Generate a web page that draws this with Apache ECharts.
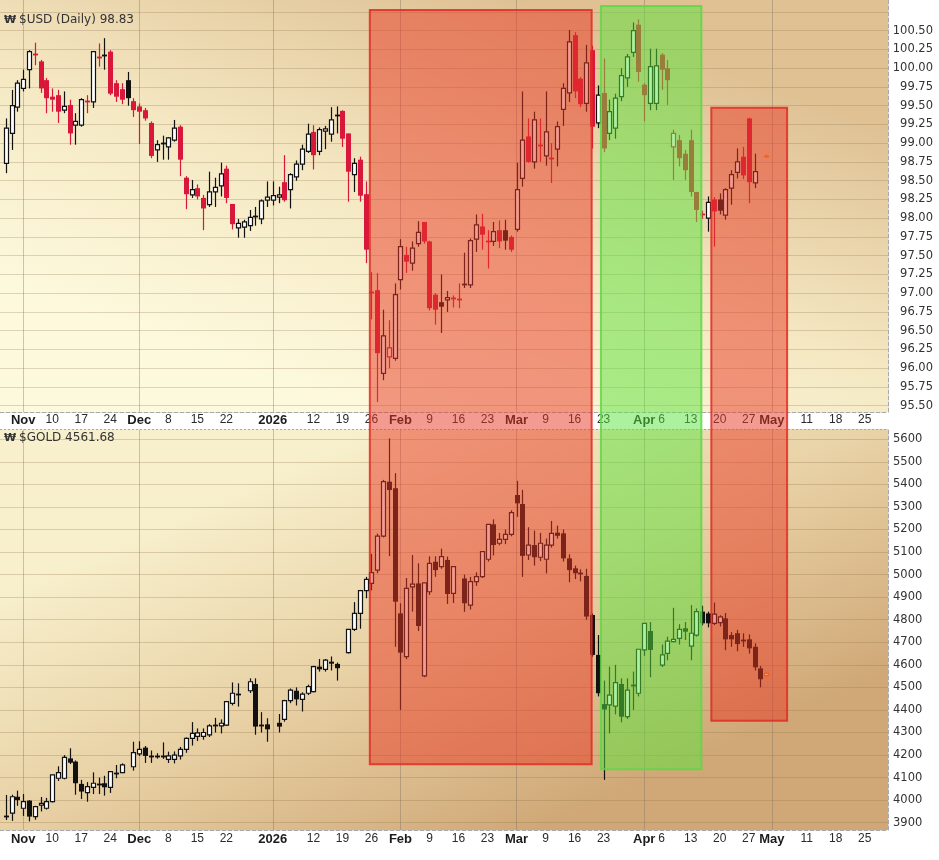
<!DOCTYPE html>
<html><head><meta charset="utf-8">
<script src="https://cdn.jsdelivr.net/npm/echarts@6/dist/echarts.min.js"></script>
<style>html,body{margin:0;padding:0;background:#fff;}#c{width:939px;height:860px;}</style>
</head><body><div id="c"></div>
<script>
// ---------- axis range (weekdays) ----------
const axisStart = '2025-10-28', axisEnd = '2026-05-29';
const dataStart = '2025-10-29', dataEnd = '2026-04-30';

// ---------- $USD daily OHLC (Oct 29 2025 .. Apr 30 2026, weekdays) ----------
const usdOpen = [98.73,99.13,99.48,
 99.73,99.98,100.20,100.09,99.84, 99.62,99.64,99.44,99.51,99.24, 99.24,99.57,99.55,100.16,100.17,
 100.22,99.80,99.72,99.84,99.56, 99.49,99.44,99.27,98.91,99.01, 98.95,99.04,99.22,98.54,98.31,
 98.40,98.27,98.18,98.35,98.43, 98.66,98.19,97.87,97.88,97.90, 98.04,97.99,98.24,98.24,98.28,
 98.48,98.38,98.55,98.72,98.89, 99.15,98.89,99.16,99.12,99.38, 99.43,99.13,98.58,98.78,98.32,
 97.02,97.04,95.93,96.15,96.13, 97.18,97.51,97.40,97.66,97.95, 97.69,96.98,96.88,96.91,96.94,
 96.93,97.11,97.11,97.72,97.89, 97.70,97.69,97.84,97.84,97.75, 97.85,98.53,99.09,98.75,98.98,
 98.83,98.81,98.92,99.45,99.67, 100.44,99.86,99.53,100.24,99.27, 99.67,99.13,99.20,99.62,99.87,
 100.21,100.58,99.78,99.53,99.53, 100.18,100.00,98.95,99.04,98.86, 99.04,98.35,98.06,98.00,98.25,
 98.25,98.04,98.40,98.61,98.82, 99.33,98.47,null,98.83];
const usdHigh = [99.33,99.71,99.84,
 99.98,100.24,100.34,100.11,99.87, 99.73,99.71,99.69,99.58,99.40, 99.60,99.64,100.23,100.33,100.40,
 100.24,99.84,99.80,99.95,99.60, 99.53,99.47,99.29,99.04,99.10, 99.08,99.31,99.24,98.56,98.51,
 98.45,98.31,98.62,98.54,98.74, 98.70,98.19,97.99,97.98,98.11, 98.15,98.25,98.49,98.49,98.42,
 98.84,98.60,98.77,98.98,99.26, 99.24,99.21,99.23,99.48,99.49, 99.44,99.13,98.80,98.82,98.49,
 97.28,97.27,96.78,96.64,97.13, 97.72,97.62,97.69,97.96,97.95, 97.70,97.00,97.25,97.03,96.97,
 97.13,97.54,97.73,98.05,98.06, 97.84,97.95,97.97,97.98,97.77, 98.74,99.69,99.33,99.42,99.33,
 99.69,99.00,99.29,99.80,100.51, 100.48,99.88,100.31,100.30,99.77, 100.13,99.58,99.66,100.00,100.19,
 100.61,100.65,99.80,100.26,100.26, 100.20,100.11,99.18,99.11,98.91, 99.18,98.35,98.10,98.29,98.28,
 98.33,98.40,98.64,98.93,98.95, 99.34,98.86,null,98.85];
const usdLow = [98.60,98.91,99.42,
 99.69,99.73,100.04,99.67,99.40, 99.42,99.27,99.40,98.98,98.98, 99.22,99.40,99.47,100.02,99.98,
 99.64,99.55,99.52,99.50,99.35, 98.99,99.30,98.80,98.75,98.78, 98.78,99.02,98.56,98.12,98.27,
 98.25,97.84,98.15,98.15,98.29, 98.20,97.85,97.74,97.74,97.83, 97.90,97.92,98.15,98.17,98.20,
 98.22,98.13,98.50,98.64,98.87, 98.65,98.84,98.92,99.02,99.13, 98.95,98.22,98.35,98.22,97.40,
 96.65,95.55,95.84,96.00,96.10, 97.05,97.27,97.30,97.62,97.66, 96.77,96.58,96.47,96.75,96.81,
 96.80,97.07,97.07,97.55,97.58, 97.33,97.63,97.60,97.58,97.55, 97.82,98.42,98.74,98.66,98.75,
 98.70,98.47,98.69,99.23,99.55, 99.60,99.48,99.42,98.93,99.20, 98.88,99.04,99.06,99.56,99.75,
 100.15,99.82,99.29,99.44,99.44, 99.71,99.51,98.51,98.69,98.51, 98.29,97.95,97.99,97.82,97.62,
 98.05,97.98,98.18,98.53,98.52, 98.20,98.40,null,98.81];
const usdClose = [99.20,99.50,99.80,
 99.85,100.22,100.18,99.73,99.60, 99.58,99.42,99.49,99.13,99.29, 99.58,99.55,100.22,100.15,100.17,
 99.66,99.62,99.58,99.60,99.44, 99.42,99.33,98.83,98.98,99.00, 99.07,99.20,98.78,98.32,98.38,
 98.29,98.13,98.35,98.41,98.59, 98.27,97.92,97.93,97.95,98.01, 98.03,98.23,98.28,98.30,98.31,
 98.24,98.58,98.72,98.92,99.12, 98.84,99.18,99.19,99.31,99.37, 99.06,98.62,98.73,98.30,97.58,
 97.00,96.20,96.43,96.27,96.98, 97.62,97.42,97.60,97.81,97.69, 96.80,96.78,96.82,96.94,96.92,
 96.91,97.13,97.70,97.91,97.78, 97.69,97.82,97.69,97.70,97.58, 98.38,99.04,98.75,99.31,98.97,
 99.15,98.80,99.22,99.73,100.35, 99.69,99.52,100.07,99.22,99.64, 98.93,99.42,99.60,99.90,100.15,
 100.50,99.95,99.64,100.02,100.03, 99.98,99.84,99.13,98.80,98.64, 98.35,98.11,98.05,98.21,98.09,
 98.10,98.38,98.58,98.75,98.57, 98.48,98.62,null,98.83];

// ---------- $GOLD daily OHLC ----------
const goldOpen = [3933,3942,4015,
 3964,3998,3927,3978,3964, 3993,4097,4097,4185,4171, 4072,4033,4057,4072,4075,
 4057,4119,4122,null,4148, 4205,4233,4197,4196,4196, 4181,4181,4196,4225,4274,
 4283,4283,4289,4333,4329, 4333,4429,4470,null,4485, 4515,4330,4336,null,4343,
 4358,4441,4485,4447,4474, 4481,4592,4580,4614,4604, null,4654,4757,4828,4929,
 4961,5020,5171,5412,5383, 4828,4636,4946,4961,4551, 4924,5057,5035,5065,4917,
 null,4983,4865,4969,4991, 5068,5223,5139,5156,5178, 5353,5313,5087,5131,5077,
 5068,5131,5186,5183,5072, 5028,5008,4994,4821,4644, 4426,4422,4417,4515,4370,
 4510,4474,4666,4750,null, 4599,4651,4703,4717,4762, 4683,4732,4836,4828,4784,
 4787,4806,4732,4740,4713, 4713,4680,4584,4552];
const goldHigh = [4023,4024,4042,
 4027,4000,3975,4014,4010, 4112,4150,4200,4230,4176, 4090,4080,4123,4100,4108,
 4128,4156,4163,null,4259, 4261,4240,4220,4208,4256, 4215,4216,4236,4278,4346,
 4318,4318,4337,4365,4358, 4440,4522,4518,null,4540, 4540,4390,4363,null,4382,
 4445,4495,4500,4478,4512, 4596,4626,4626,4637,4610, null,4757,4878,4932,4990,
 5092,5182,5420,5604,5450, 4873,4985,5087,5050,4963, 5081,5081,5115,5080,5035,
 null,5000,4990,5010,5102, 5223,5245,5185,5200,5285, 5416,5376,5210,5195,5185,
 5160,5238,5217,5200,5090, 5040,5024,5026,4828,4732, 4530,4592,4600,4540,4540,
 4570,4669,4784,4790,null, 4690,4725,4853,4780,4790, 4865,4850,4862,4836,4876,
 4820,4830,4745,4755,4740, 4735,4695,4595,4570];
const goldLow = [3912,3908,3975,
 3930,3906,3913,3950,3958, 3990,4085,4092,4160,4024, 4005,3993,4027,4027,4020,
 4032,4097,4120,null,4131, 4196,4165,4165,4184,4183, 4165,4163,4180,4210,4242,
 4262,4268,4280,4300,4296, 4330,4420,4415,null,4475, 4290,4300,4259,null,4300,
 4348,4430,4420,4393,4466, 4478,4570,4570,4575,4530, null,4650,4750,4760,4895,
 4930,5006,5165,5082,4680, 4400,4625,4836,4750,4545, 4910,4990,5026,4870,4874,
 null,4835,4845,4950,4985, 5058,5085,5130,5135,5170, 5256,4990,5065,5040,5060,
 5005,5120,5160,5058,4966, 4980,4970,4800,4636,4460, 4090,4296,4380,4345,4360,
 4400,4460,4640,4545,null, 4590,4620,4700,4690,4710, 4620,4725,4775,4766,4776,
 4770,4665,4680,4660,4680, 4650,4575,4500,4545];
const goldClose = [3929,4015,4000,
 3993,3927,3971,3986,3993, 4112,4122,4190,4166,4075, 4038,4060,4075,4068,4057,
 4126,4125,4156,null,4211, 4225,4196,4195,4197,4193, 4196,4200,4225,4274,4296,
 4298,4300,4329,4331,4341, 4437,4474,4469,null,4525, 4326,4332,4314,null,4326,
 4441,4488,4447,4470,4503, 4592,4580,4621,4605,4585, null,4757,4828,4929,4979,
 5009,5171,5412,5375,4880, 4654,4939,4958,4772,4963, 5050,5020,5080,4914,5035,
 null,4873,4969,4991,5102, 5223,5131,5156,5178,5275, 5316,5083,5131,5077,5139,
 5131,5183,5172,5072,5020, 5006,5004,4814,4644,4474, 4402,4466,4521,4370,4488,
 4512,4669,4784,4666,null, 4644,4705,4713,4757,4747, 4740,4836,4784,4784,4825,
 4813,4713,4713,4692,4710, 4673,4589,4536,4562];

// ---------- tick labels ----------
const usdTicks = [95.50,95.75,96.00,96.25,96.50,96.75,97.00,97.25,97.50,97.75,98.00,98.25,98.50,98.75,99.00,99.25,99.50,99.75,100.00,100.25,100.50];
const usdGridValues = usdTicks.concat([100.75]);
const goldTicks = [3900,4000,4100,4200,4300,4400,4500,4600,4700,4800,4900,5000,5100,5200,5300,5400,5500,5600];
const xTickLabels = [['2025-11-03','Nov',1],['2025-11-10','10'],['2025-11-17','17'],['2025-11-24','24'],
 ['2025-12-01','Dec',1],['2025-12-08','8'],['2025-12-15','15'],['2025-12-22','22'],
 ['2026-01-01','2026',1],['2026-01-12','12'],['2026-01-19','19'],['2026-01-26','26'],
 ['2026-02-02','Feb',1],['2026-02-09','9'],['2026-02-16','16'],['2026-02-23','23'],
 ['2026-03-02','Mar',1],['2026-03-09','9'],['2026-03-16','16'],['2026-03-23','23'],
 ['2026-04-01','Apr',1],['2026-04-06','6'],['2026-04-13','13'],['2026-04-20','20'],['2026-04-27','27'],
 ['2026-05-01','May',1],['2026-05-11','11'],['2026-05-18','18'],['2026-05-25','25']];
const monthStarts = ['2025-11-03','2025-12-01','2026-01-01','2026-02-02','2026-03-02','2026-04-01','2026-05-01'];

// ---------- annotation boxes (date, day offset) ----------
const boxes = [
  {from:['2026-01-26',-0.28], to:['2026-03-19',-0.06], usdTop:100.776, goldBottom:4159, kind:'red'},
  {from:['2026-03-23',-0.46], to:['2026-04-15',-0.16], usdTop:100.83, goldBottom:4137, kind:'green'},
  {from:['2026-04-16',0.56], to:['2026-05-05',0.62], usdTop:99.473, goldBottom:4352, kind:'red'}
];

// ---------- helpers ----------
function weekdays(a, b) {
  const out = []; const d = new Date(a + 'T00:00:00Z'); const e = new Date(b + 'T00:00:00Z');
  while (d <= e) { const w = d.getUTCDay(); if (w !== 0 && w !== 6) out.push(d.toISOString().slice(0, 10)); d.setUTCDate(d.getUTCDate() + 1); }
  return out;
}
const categories = weekdays(axisStart, axisEnd);
const dataDates = weekdays(dataStart, dataEnd);
const catIndex = {}; categories.forEach((d, i) => catIndex[d] = i);

function buildData(o, h, l, c) {
  const out = [];
  dataDates.forEach((d, k) => { if (o[k] != null) out.push([catIndex[d], o[k], c[k], l[k], h[k], k]); });
  return out;
}
const RED = '#d8173a', BLACK = '#111', ORANGE = '#f08a24';
function makeRender(closeArr, colorByPrev) {
  const lastK = closeArr.length - 1;
  return function (params, api) {
    const ci = api.value(0), o = api.value(1), c = api.value(2), l = api.value(3), h = api.value(4), k = api.value(5);
    const p = api.coord([ci, o]);
    const cx = Math.round(p[0]) + 0.5;
    const yo = p[1], yc = api.coord([ci, c])[1], yl = api.coord([ci, l])[1], yh = api.coord([ci, h])[1];
    let color = BLACK;
    if (k === lastK) color = ORANGE;
    else if (colorByPrev) {
      let j = k - 1; while (j >= 0 && closeArr[j] == null) j--;
      if (j >= 0 && c < closeArr[j]) color = RED;
    }
    const children = [{type:'line', shape:{x1:cx, y1:yh, x2:cx, y2:yl}, style:{stroke:color, lineWidth:1.2}}];
    const top = Math.min(yo, yc), bot = Math.max(yo, yc);
    if (bot - top < 1.6) {
      const ym = Math.round((top + bot) / 2) + 0.5;
      children.push({type:'line', shape:{x1:cx - 2.5, y1:ym, x2:cx + 2.5, y2:ym}, style:{stroke:color, lineWidth:1.8}});
    } else if (c < o) {
      children.push({type:'rect', shape:{x:cx - 2.5, y:top, width:5, height:bot - top}, style:{fill:color}});
    } else {
      children.push({type:'rect', shape:{x:cx - 2, y:top, width:4, height:bot - top}, style:{fill:'#fff', stroke:color, lineWidth:1.2}});
    }
    return {type:'group', children};
  };
}

const labelMap = {};
xTickLabels.forEach(t => { labelMap[t[0]] = t[2] ? '{m|' + t[1] + '}' : '{d|' + t[1] + '}'; });
const monthSet = new Set(monthStarts);
function xAxisCfg(gi, margin) {
  return {
    type:'category', gridIndex:gi, data:categories, boundaryGap:false,
    axisLine:{show:true, lineStyle:{color:'#a8a8a8', type:'dashed', width:1}},
    axisTick:{show:false},
    axisLabel:{
      interval:(i, v) => labelMap[v] !== undefined,
      formatter:(v) => labelMap[v] || '',
      margin:margin,
      rich:{
        m:{fontFamily:'Liberation Sans, Arial, sans-serif', fontWeight:'bold', fontSize:13, color:'#1c1c1c'},
        d:{fontFamily:'Liberation Sans, Arial, sans-serif', fontSize:12, color:'#2a2a2a'}
      }
    },
    splitLine:{show:true, interval:(i, v) => monthSet.has(v), lineStyle:{color:'rgba(120,110,100,0.38)', width:1}}
  };
}

const GRID_L = -2.58, GRID_R = 939 - 888;
const option = {
  animation:false,
  backgroundColor:'#ffffff',
  grid:[
    {left:GRID_L, right:GRID_R, top:0, height:412},
    {left:GRID_L, right:GRID_R, top:429.3, height:400.7}
  ],
  xAxis:[xAxisCfg(0, 2), xAxisCfg(1, 3)],
  yAxis:[
    {type:'value', gridIndex:0, position:'right', min:95.416, max:100.909,
     axisLine:{show:true, lineStyle:{color:'#a8a8a8', type:'dashed'}}, axisTick:{show:false}, splitLine:{show:false},
     axisLabel:{customValues:usdTicks, formatter:(v) => v.toFixed(2), align:'right', margin:45,
       fontFamily:'DejaVu Sans, sans-serif', fontSize:11.5, color:'#333'}},
    {type:'value', gridIndex:1, position:'right', min:3867.6, max:5644.3,
     axisLine:{show:true, lineStyle:{color:'#a8a8a8', type:'dashed'}}, axisTick:{show:false}, splitLine:{show:false},
     axisLabel:{customValues:goldTicks, formatter:(v) => String(Math.round(v)), align:'left', margin:5,
       fontFamily:'DejaVu Sans, sans-serif', fontSize:11.5, color:'#333'}}
  ],
  series:[
    {type:'line', xAxisIndex:0, yAxisIndex:0, data:[], silent:true,
     markLine:{silent:true, symbol:'none', label:{show:false}, z:1, animation:false,
       lineStyle:{color:'rgba(140,115,80,0.28)', width:1, type:'solid'},
       data:usdGridValues.map(v => ({yAxis:v}))}},
    {type:'line', xAxisIndex:1, yAxisIndex:1, data:[], silent:true,
     markLine:{silent:true, symbol:'none', label:{show:false}, z:1, animation:false,
       lineStyle:{color:'rgba(140,110,70,0.28)', width:1, type:'solid'},
       data:goldTicks.map(v => ({yAxis:v}))}},
    {type:'custom', name:'$USD', xAxisIndex:0, yAxisIndex:0, z:10, clip:false,
     renderItem:makeRender(usdClose, true), encode:{x:0, y:[1, 2, 3, 4]},
     data:buildData(usdOpen, usdHigh, usdLow, usdClose)},
    {type:'custom', name:'$GOLD', xAxisIndex:1, yAxisIndex:1, z:10, clip:false,
     renderItem:makeRender(goldClose, false), encode:{x:0, y:[1, 2, 3, 4]},
     data:buildData(goldOpen, goldHigh, goldLow, goldClose)}
  ],
  graphic:[
    {type:'rect', z:-10, silent:true, shape:{x:0, y:0, width:888, height:412},
     style:{fill:{type:'linear', x:0.42, y:1, x2:0.58, y2:0, colorStops:[
       {offset:0, color:'#fdf9dd'}, {offset:0.45, color:'#f5e9c4'}, {offset:1, color:'#dfc194'}]}}},
    {type:'rect', z:-10, silent:true, shape:{x:0, y:429, width:888, height:401},
     style:{fill:{type:'linear', x:0.4, y:0, x2:0.6, y2:1, colorStops:[
       {offset:0, color:'#f8f0cd'}, {offset:0.5, color:'#e8d1a5'}, {offset:1, color:'#d0a877'}]}}},
    {type:'line', z:5, silent:true, shape:{x1:0, y1:429.5, x2:888, y2:429.5}, style:{stroke:'#a8a8a8', lineWidth:1, lineDash:[2, 2]}},
    {type:'text', z:20, silent:true, x:4, y:15, style:{text:'\u20A9', font:'bold 11px DejaVu Sans', fill:'#333'}},
    {type:'text', z:20, silent:true, x:19, y:14, style:{text:'$USD (Daily) 98.83', font:'12px DejaVu Sans', fill:'#333'}},
    {type:'text', z:20, silent:true, x:4, y:433, style:{text:'\u20A9', font:'bold 11px DejaVu Sans', fill:'#333'}},
    {type:'text', z:20, silent:true, x:19, y:432, style:{text:'$GOLD 4561.68', font:'12px DejaVu Sans', fill:'#333'}}
  ]
};

const chart = echarts.init(document.getElementById('c'), null, {renderer:'canvas', width:939, height:860});
chart.setOption(option);

// overlay boxes positioned through the axes
const x0 = chart.convertToPixel({xAxisIndex:0}, 0), x1 = chart.convertToPixel({xAxisIndex:0}, 1);
const xAt = (pos) => x0 + (x1 - x0) * pos;
const overlay = boxes.map(b => {
  const xa = xAt(catIndex[b.from[0]] + b.from[1]);
  const xb = xAt(catIndex[b.to[0]] + b.to[1]);
  const ya = chart.convertToPixel({yAxisIndex:0}, b.usdTop);
  const yb = chart.convertToPixel({yAxisIndex:1}, b.goldBottom);
  const red = b.kind === 'red';
  return {type:'rect', z:100, silent:true, shape:{x:xa, y:ya, width:xb - xa, height:yb - ya},
    style:{fill: red ? 'rgba(232,55,35,0.5)' : 'rgba(90,228,60,0.5)',
           stroke: red ? 'rgba(222,45,35,0.85)' : 'rgba(95,215,70,0.85)', lineWidth:2}};
});
chart.setOption({graphic: option.graphic.concat(overlay)});
</script></body></html>
